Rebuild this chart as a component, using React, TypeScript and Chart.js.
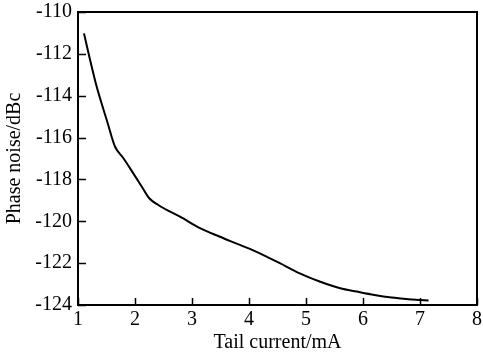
import React, { useEffect, useRef } from "react";
import { Chart, registerables } from "chart.js";

Chart.register(...registerables);

const currentMA = [1.105, 1.205, 1.32, 1.44, 1.52, 1.59, 1.65, 1.8, 1.97, 2.12, 2.25, 2.41, 2.58, 2.79, 3.14, 3.49, 3.84, 4.19, 4.37, 4.54, 4.89, 5.25, 5.6, 5.89, 6.2, 6.5, 6.8, 7.0, 7.15];
const phaseNoise = [-111.02, -112.21, -113.49, -114.6, -115.3, -115.96, -116.44, -117.0, -117.71, -118.35, -118.9, -119.22, -119.49, -119.78, -120.33, -120.74, -121.13, -121.53, -121.77, -122.0, -122.49, -122.89, -123.2, -123.36, -123.52, -123.64, -123.72, -123.76, -123.79];
const xTitle = "Tail current/mA";
const yTitle = "Phase noise/dBc";

const FONT = "'Liberation Serif', 'Times New Roman', serif";

const frame = {
  id: "frame",
  afterDraw(chart: any) {
    const { ctx, chartArea: a, scales } = chart;
    ctx.save();
    ctx.strokeStyle = "#000";
    ctx.lineWidth = 2;
    ctx.strokeRect(a.left, a.top, a.right - a.left, a.bottom - a.top);
    ctx.lineWidth = 1.5;
    ctx.beginPath();
    for (const t of scales.x.ticks) {
      const px = Math.round(scales.x.getPixelForValue(t.value)) + 0.5;
      ctx.moveTo(px, a.bottom);
      ctx.lineTo(px, a.bottom - 7);
    }
    for (const t of scales.y.ticks) {
      const py = Math.round(scales.y.getPixelForValue(t.value)) + 0.5;
      ctx.moveTo(a.left, py);
      ctx.lineTo(a.left + 8, py);
    }
    ctx.stroke();
    ctx.restore();
  },
};

export default function App() {
  const ref = useRef<HTMLCanvasElement>(null);
  useEffect(() => {
    document.body.style.margin = "0";
    const chart = new Chart(ref.current!, {
      type: "line",
      data: {
        datasets: [
          {
            data: currentMA.map((x, i) => ({ x, y: phaseNoise[i] })),
            borderColor: "#000",
            borderWidth: 2,
            pointRadius: 0,
            cubicInterpolationMode: "monotone",
            fill: false,
          },
        ],
      },
      options: {
        animation: false,
        responsive: false,
        layout: { padding: { top: 12, right: 6, left: 0, bottom: 0 } },
        plugins: { legend: { display: false }, tooltip: { enabled: false } },
        scales: {
          x: {
            type: "linear",
            min: 1,
            max: 8,
            grid: { display: false, drawTicks: false },
            border: { display: false },
            ticks: { stepSize: 1, color: "#000", padding: 3, font: { family: FONT, size: 20 } },
            title: { display: true, text: xTitle, color: "#000", padding: { top: 0, bottom: 0 }, font: { family: FONT, size: 20 } },
            afterFit: (s: any) => { s.height = 50; s.paddingLeft = 0; s.paddingRight = 0; },
          },
          y: {
            type: "linear",
            min: -124,
            max: -110,
            grid: { display: false, drawTicks: false },
            border: { display: false },
            ticks: { stepSize: 2, color: "#000", padding: 6, font: { family: FONT, size: 20 } },
            title: { display: true, text: yTitle, color: "#000", padding: { top: 3, bottom: 0 }, font: { family: FONT, size: 20 } },
            afterFit: (s: any) => { s.width = 78; s.paddingTop = 0; s.paddingBottom = 0; },
          },
        },
      },
      plugins: [frame],
    });
    return () => chart.destroy();
  }, []);
  return <canvas ref={ref} width={483} height={355} style={{ display: "block" }} />;
}
